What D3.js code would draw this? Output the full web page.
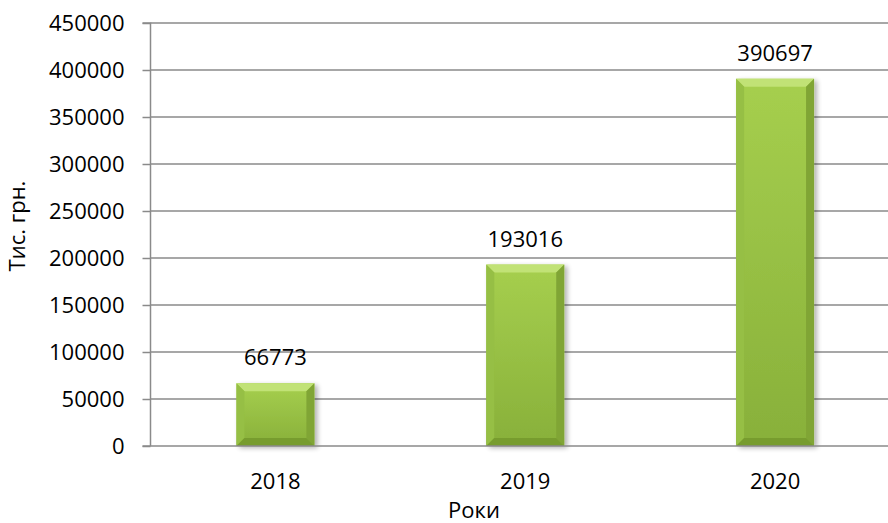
<!DOCTYPE html>
<html><head><meta charset="utf-8">
<script src="https://cdn.jsdelivr.net/npm/d3@7"></script>
<style>body{margin:0;background:#fff}svg text{font-family:"Open Sans",sans-serif;fill:#000}</style>
</head><body><svg id="c" width="888" height="523"></svg>
<script>
const categories = ["2018", "2019", "2020"];
const values = [66773, 193016, 390697];
const yTicks = [0, 50000, 100000, 150000, 200000, 250000, 300000, 350000, 400000, 450000];
const yTitle = "Тис. грн.";
const xTitle = "Роки";

(function(){
const svg = d3.select("#c");
const pL = 150.5, pR = 900, pT = 23, pB = 446;
const x = d3.scaleBand().domain(categories).range([pL, pR]).paddingInner(0.688).paddingOuter(0.344);
const y = d3.scaleLinear().domain([0, 450000]).range([pB, pT]);
const fs = 22;

const defs = svg.append("defs");
const g1 = defs.append("linearGradient").attr("id","face").attr("x1",0).attr("y1",0).attr("x2",0).attr("y2",1);
g1.append("stop").attr("offset",0).attr("stop-color","#a6cf4e");
g1.append("stop").attr("offset",1).attr("stop-color","#88b03a");
const sh = defs.append("filter").attr("id","sh").attr("x","-20%").attr("y","-20%").attr("width","150%").attr("height","150%");
sh.append("feGaussianBlur").attr("in","SourceAlpha").attr("stdDeviation",2.5).attr("result","b");
sh.append("feOffset").attr("in","b").attr("dx",3).attr("dy",2).attr("result","o");
sh.append("feComponentTransfer").attr("in","o").attr("result","s").append("feFuncA").attr("type","linear").attr("slope",0.3);
const m = sh.append("feMerge"); m.append("feMergeNode").attr("in","s"); m.append("feMergeNode").attr("in","SourceGraphic");

// gridlines
svg.append("g").selectAll("line").data(yTicks.filter(d=>d>0)).join("line")
  .attr("x1", pL).attr("x2", 888).attr("y1", d=>y(d)).attr("y2", d=>y(d))
  .attr("stroke", "#8a8a8a").attr("stroke-width", 1.5);

// y axis
const ya = svg.append("g").attr("transform",`translate(${pL},0)`)
  .call(d3.axisLeft(y).tickValues(yTicks).tickSize(8).tickPadding(18).tickFormat(d3.format("d")));
ya.select(".domain").attr("stroke","#8a8a8a").attr("stroke-width",1.5).attr("d",`M-8,${pT}H0V${pB}`);
ya.selectAll(".tick line").attr("stroke","#8a8a8a").attr("stroke-width",1.5);
ya.selectAll(".tick text").style("font-size", fs+"px").style("font-family","'Open Sans',sans-serif").attr("fill","#000").attr("dy","0.36em");

// bars
const bw = x.bandwidth(), bv = 8;
const bars = svg.append("g").selectAll("g").data(values.map((v,i)=>({v, c:categories[i]}))).join("g")
  .attr("filter","url(#sh)");
bars.each(function(d){
  const g = d3.select(this);
  const x0 = x(d.c), x1 = x0 + bw, y0 = y(d.v), y1 = y(0);
  g.append("rect").attr("x",x0).attr("y",y0).attr("width",bw).attr("height",y1-y0).attr("fill","url(#face)");
  g.append("path").attr("d",`M${x0},${y0}H${x1}L${x1-bv},${y0+bv}H${x0+bv}Z`).attr("fill","#c1e276");
  g.append("path").attr("d",`M${x0},${y0}L${x0+bv},${y0+bv}V${y1-bv}L${x0},${y1}Z`).attr("fill","#96bf44");
  g.append("path").attr("d",`M${x1},${y0}L${x1-bv},${y0+bv}V${y1-bv}L${x1},${y1}Z`).attr("fill","#80a535");
  g.append("path").attr("d",`M${x0},${y1}L${x0+bv},${y1-bv}H${x1-bv}L${x1},${y1}Z`).attr("fill","#779c2f");
});

// bottom axis line
svg.append("line").attr("x1", pL-8).attr("x2", 888).attr("y1", pB).attr("y2", pB)
  .attr("stroke","#8a8a8a").attr("stroke-width",1.5);

// value labels
svg.append("g").selectAll("text").data(values.map((v,i)=>({v, c:categories[i]}))).join("text")
  .attr("x", d=>x(d.c)+bw/2).attr("y", d=>y(d.v)-18).attr("text-anchor","middle")
  .style("font-size", fs+"px").text(d=>d.v);

// category labels
svg.append("g").selectAll("text").data(categories).join("text")
  .attr("x", d=>x(d)+bw/2).attr("y", 489).attr("text-anchor","middle")
  .style("font-size", fs+"px").text(d=>d);

svg.append("text").attr("x", 474).attr("y", 518).attr("text-anchor","middle").style("font-size", fs+"px").text(xTitle);
svg.append("text").attr("transform","translate(25,226) rotate(-90)").attr("text-anchor","middle").style("font-size", fs+"px").text(yTitle);
})();
</script></body></html>
